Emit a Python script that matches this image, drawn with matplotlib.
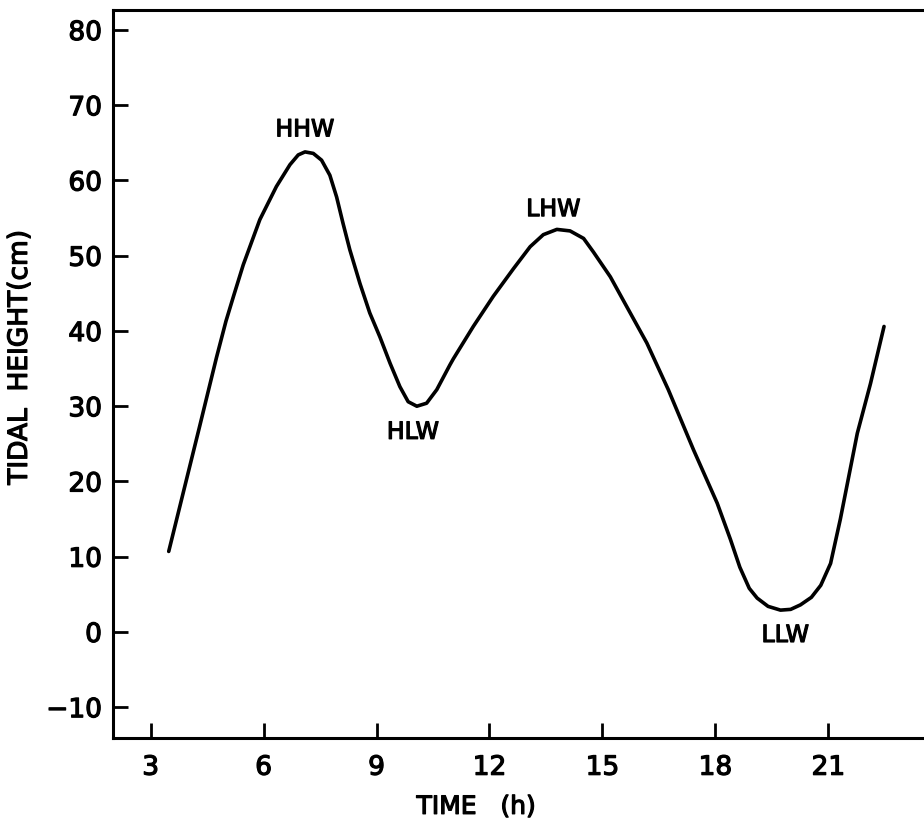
import matplotlib
matplotlib.use("Agg")
from matplotlib import pyplot as plt
from matplotlib import patheffects as pe

# time (h) and tidal height (cm)
time_h = [3.48, 3.86, 4.30, 4.75, 5.00, 5.20, 5.46, 5.90, 6.34, 6.70, 6.92, 7.10, 7.32,
          7.54, 7.76, 7.94, 8.11, 8.29, 8.56, 8.82, 9.09, 9.36, 9.62, 9.84, 10.07,
          10.33, 10.60, 10.95, 11.04, 11.57, 12.10, 12.64, 13.08, 13.43, 13.79,
          14.14, 14.50, 14.76, 15.21, 15.65, 16.18, 16.75, 17.42, 18.05, 18.40,
          18.65, 18.90, 19.11, 19.40, 19.73, 20.00, 20.26, 20.55, 20.80, 21.06, 21.32,
          21.77, 22.12, 22.48]
height_cm = [10.7, 18.4, 27.3, 36.5, 41.3, 44.6, 48.8, 54.8, 59.2, 62.1, 63.4, 63.8, 63.6,
             62.7, 60.7, 57.8, 54.3, 50.8, 46.3, 42.4, 39.2, 35.7, 32.6, 30.6, 30.0,
             30.4, 32.2, 35.5, 36.3, 40.6, 44.6, 48.3, 51.2, 52.8, 53.5,
             53.3, 52.3, 50.5, 47.2, 43.2, 38.4, 32.2, 24.2, 17.1, 12.3,
             8.6, 5.8, 4.5, 3.4, 2.9, 3.0, 3.6, 4.6, 6.2, 9.1, 15.0,
             26.4, 33.0, 40.6]

peak_labels = ["HHW", "HLW", "LHW", "LLW"]
label_t = [7.1, 9.97, 13.7, 19.86]
label_h = [66.8, 26.6, 56.2, -0.4]

x_ticks = [3, 6, 9, 12, 15, 18, 21]
y_ticks = [-10, 0, 10, 20, 30, 40, 50, 60, 70, 80]

plt.rcParams["font.family"] = ["DejaVu Sans"]
# slightly thickened glyphs, like stencil lettering
thick = [pe.withStroke(linewidth=0.9, foreground="black")]

fig = plt.figure(figsize=(9.24, 8.33), dpi=100)
ax = fig.add_axes([0.1223, 0.114, 0.876, 0.874])

ax.plot(time_h, height_cm, color="black", linewidth=2.6,
        solid_capstyle="round", solid_joinstyle="round")

for lab, t, h in zip(peak_labels, label_t, label_h):
    ax.text(t, h, lab, ha="center", va="center", fontsize=17, path_effects=thick)

ax.set_xlim(2.0, 23.5)
ax.set_ylim(-14.1, 82.66)
ax.set_xticks(x_ticks)
ax.set_yticks(y_ticks)
ax.set_yticklabels([str(v).replace("-", "\u2212") for v in y_ticks])

ax.spines["right"].set_visible(False)
for s in ["left", "top", "bottom"]:
    ax.spines[s].set_linewidth(2.2)

ax.tick_params(axis="both", direction="in", length=11, width=2.0, labelsize=19,
               top=False, right=False)
ax.tick_params(axis="x", pad=12)
ax.tick_params(axis="y", pad=8)
for lbl in ax.get_xticklabels() + ax.get_yticklabels():
    lbl.set_path_effects(thick)

ax.set_xlabel("TIME   (h)", fontsize=18, path_effects=thick)
ax.set_ylabel("TIDAL  HEIGHT(cm)", fontsize=19, path_effects=thick)
ax.xaxis.set_label_coords(0.449, -0.078)
ax.yaxis.set_label_coords(-0.099, 0.523)

fig.savefig("out.png", dpi=100)
